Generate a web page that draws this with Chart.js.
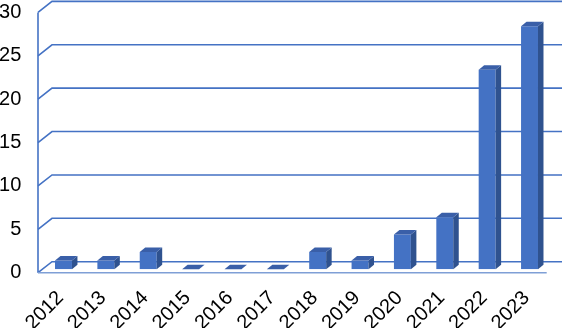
<!DOCTYPE html>
<html>
<head>
<meta charset="utf-8">
<script src="https://cdn.jsdelivr.net/npm/chart.js@4.4.1/dist/chart.umd.min.js"></script>
<style>
  html, body { margin: 0; padding: 0; background: #fff; }
  #wrap { width: 562px; height: 328px; }
</style>
</head>
<body>
<div id="wrap"><canvas id="chart"></canvas></div>
<script>
const years = ["2012", "2013", "2014", "2015", "2016", "2017", "2018", "2019", "2020", "2021", "2022", "2023"];
const counts = [1, 1, 2, 0, 0, 0, 2, 1, 4, 6, 23, 28];
const yMax = 30;
const yStep = 5;

const blue = "#4472C4";
const sideBlue = "#2F528F";
const topBlue = "#3A5FA8";

// the fake 3D: a back wall behind the bars and a front edge before them
const depth = { frontX: -4.3, frontY: 3.4, backX: 9.7, backY: -7.6, barDx: 5.5, barDy: -4.5 };

const wall3d = {
  id: "wall3d",
  beforeDatasetsDraw(chart) {
    const { ctx, chartArea, scales } = chart;
    const y = scales.y;
    const fx = chartArea.left + depth.frontX;
    const bx = chartArea.left + depth.backX;
    ctx.save();
    ctx.strokeStyle = blue;
    ctx.lineWidth = 1.6;
    y.ticks.forEach(t => {
      const py = y.getPixelForValue(t.value);
      ctx.beginPath();
      ctx.moveTo(fx, py + depth.frontY);
      ctx.lineTo(bx, py + depth.backY);
      ctx.lineTo(chart.width, py + depth.backY);
      ctx.stroke();
    });
    // y axis on the front plane
    ctx.beginPath();
    ctx.moveTo(fx, y.getPixelForValue(yMax) + depth.frontY);
    ctx.lineTo(fx, y.getPixelForValue(0) + depth.frontY);
    ctx.stroke();
    // front edge of the floor
    ctx.strokeStyle = "#7F9FD6";
    ctx.beginPath();
    ctx.moveTo(fx, y.getPixelForValue(0) + depth.frontY);
    ctx.lineTo(chartArea.right - 4, y.getPixelForValue(0) + depth.frontY);
    ctx.stroke();
    ctx.restore();
  },
  afterDatasetsDraw(chart) {
    const { ctx } = chart;
    const meta = chart.getDatasetMeta(0);
    ctx.save();
    meta.data.forEach(bar => {
      const x1 = bar.x - bar.width / 2;
      const x2 = bar.x + bar.width / 2;
      const top = bar.y;
      const bottom = bar.base;
      const dx = depth.barDx, dy = depth.barDy;
      // right side
      ctx.fillStyle = sideBlue;
      ctx.beginPath();
      ctx.moveTo(x2, top);
      ctx.lineTo(x2 + dx, top + dy);
      ctx.lineTo(x2 + dx, bottom + dy);
      ctx.lineTo(x2, bottom);
      ctx.closePath();
      ctx.fill();
      // top
      ctx.fillStyle = topBlue;
      ctx.beginPath();
      ctx.moveTo(x1, top);
      ctx.lineTo(x1 + dx, top + dy);
      ctx.lineTo(x2 + dx, top + dy);
      ctx.lineTo(x2, top);
      ctx.closePath();
      ctx.fill();
    });
    ctx.restore();
  }
};

function noPadding(scale) {
  scale.paddingTop = 0;
  scale.paddingBottom = 0;
  scale.paddingLeft = 0;
  scale.paddingRight = 0;
}

new Chart(document.getElementById("chart"), {
  type: "bar",
  data: {
    labels: years,
    datasets: [{
      data: counts,
      backgroundColor: blue,
      borderWidth: 0,
      barPercentage: 0.4,
      categoryPercentage: 1.0
    }]
  },
  options: {
    responsive: true,
    maintainAspectRatio: false,
    animation: false,
    layout: { padding: { top: 9, right: 11.3, left: 0, bottom: 0 } },
    plugins: { legend: { display: false }, tooltip: { enabled: false } },
    scales: {
      x: {
        grid: { display: false, drawTicks: false },
        border: { display: false },
        ticks: {
          color: "#000",
          font: { family: "Liberation Sans", size: 20 },
          minRotation: 45,
          maxRotation: 45,
          padding: 17,
          labelOffset: -3
        },
        afterFit(scale) { scale.height = 58.7; noPadding(scale); }
      },
      y: {
        min: 0,
        max: yMax,
        grid: { display: false, drawTicks: false },
        border: { display: false },
        ticks: {
          stepSize: yStep,
          color: "#000",
          font: { family: "Liberation Sans", size: 20 },
          padding: 21,
          labelOffset: 3.4
        },
        afterFit(scale) { scale.width = 42.3; noPadding(scale); }
      }
    }
  },
  plugins: [wall3d]
});
</script>
</body>
</html>
